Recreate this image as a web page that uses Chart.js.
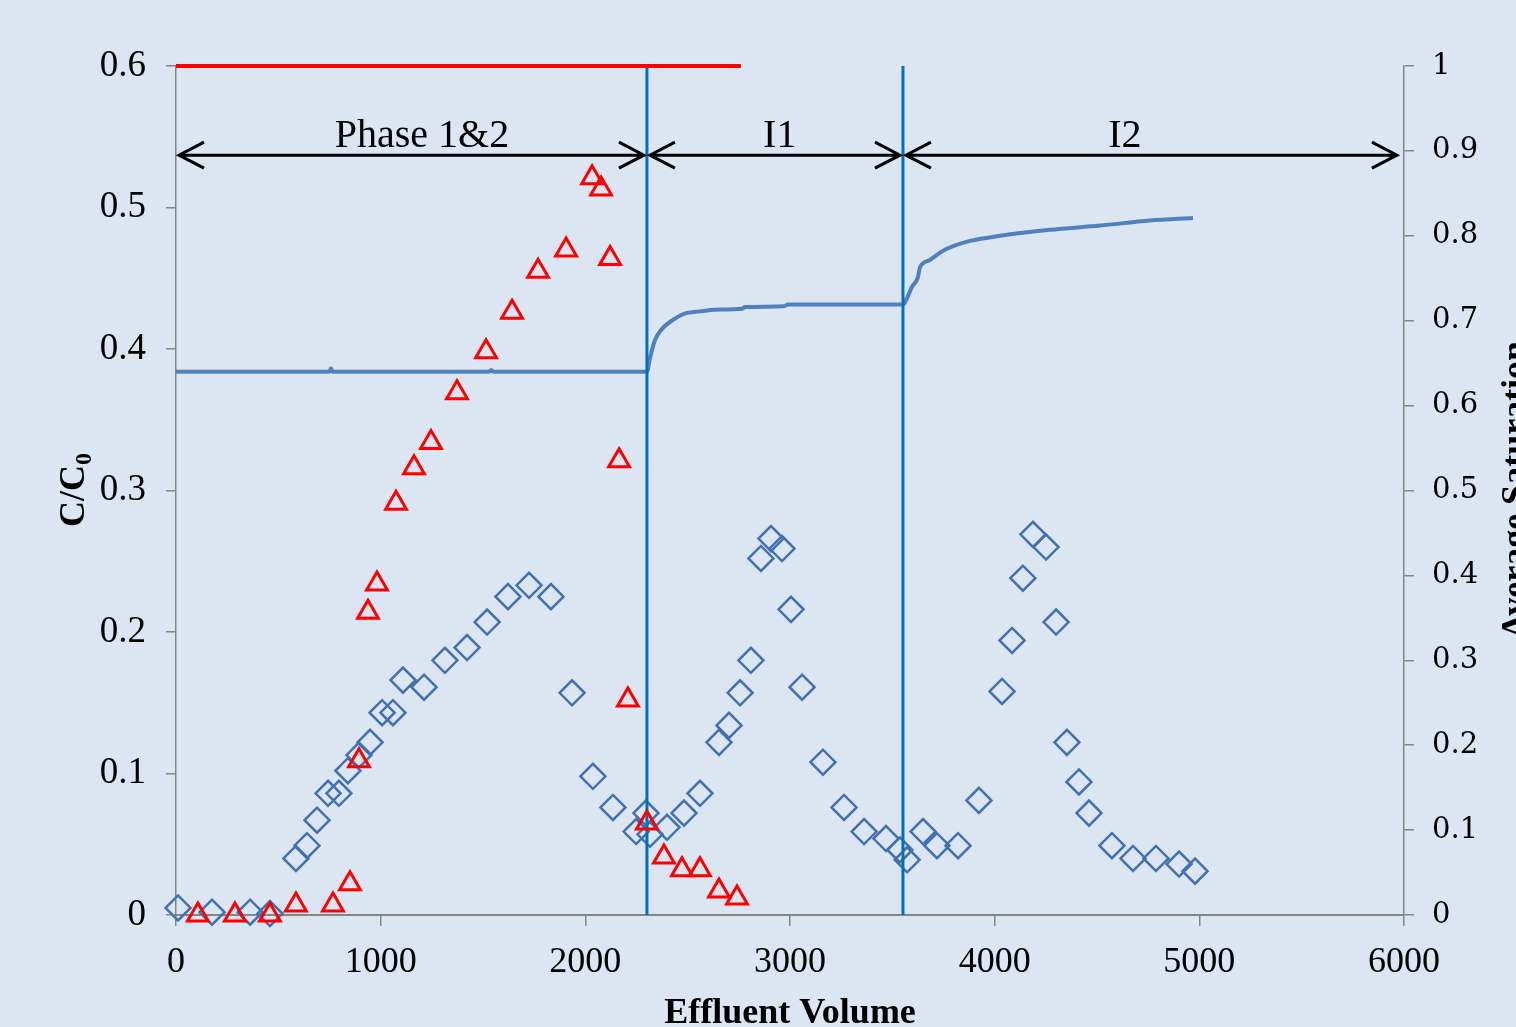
<!DOCTYPE html>
<html>
<head>
<meta charset="utf-8">
<script src="https://cdn.jsdelivr.net/npm/chart.js@4.4.1/dist/chart.umd.min.js"></script>
<style>
  html, body { margin: 0; padding: 0; background: #dce6f2; }
  #wrap { width: 1516px; height: 1027px; }
</style>
</head>
<body>
<div id="wrap"><canvas id="chart" width="1516" height="1027"></canvas></div>
<script>
// values
const diamondVol = [10, 176, 362, 459, 586, 640, 689, 743, 796, 840, 894, 948, 1007, 1060, 1109, 1212, 1314, 1422, 1520, 1622, 1725, 1832, 1935, 2037, 2135, 2248, 2296, 2316, 2399, 2482, 2560, 2653, 2702, 2756, 2809, 2858, 2907, 2961, 3005, 3059, 3161, 3264, 3362, 3469, 3537, 3572, 3650, 3718, 3821, 3923, 4036, 4085, 4138, 4187, 4251, 4300, 4353, 4412, 4461, 4573, 4676, 4788, 4901, 4979];
const diamondC = [0.005, 0.002, 0.002, 0.001, 0.040, 0.049, 0.067, 0.086, 0.086, 0.102, 0.113, 0.122, 0.143, 0.143, 0.166, 0.161, 0.180, 0.189, 0.207, 0.225, 0.233, 0.225, 0.157, 0.098, 0.076, 0.059, 0.072, 0.057, 0.062, 0.072, 0.086, 0.122, 0.134, 0.157, 0.180, 0.252, 0.266, 0.259, 0.216, 0.161, 0.108, 0.076, 0.059, 0.054, 0.046, 0.039, 0.059, 0.049, 0.049, 0.081, 0.158, 0.194, 0.238, 0.269, 0.260, 0.207, 0.122, 0.094, 0.072, 0.049, 0.040, 0.040, 0.036, 0.031];

const triVol = [107, 288, 459, 586, 767, 850, 894, 938, 982, 1075, 1163, 1246, 1373, 1515, 1642, 1769, 1906, 2033, 2077, 2121, 2165, 2208, 2301, 2384, 2472, 2560, 2653, 2741];
const triC = [0, 0, 0, 0.007, 0.007, 0.022, 0.109, 0.214, 0.234, 0.291, 0.316, 0.334, 0.369, 0.398, 0.426, 0.455, 0.470, 0.521, 0.513, 0.464, 0.321, 0.152, 0.065, 0.041, 0.032, 0.032, 0.017, 0.012];

const satVol = [0, 750, 757, 765, 1530, 1540, 1550, 2301, 2316, 2340, 2370, 2428, 2482, 2560, 2634, 2765, 2780, 2971, 2990, 3552, 3567, 3596, 3625, 3635, 3679, 3738, 3800, 3880, 4026, 4270, 4515, 4759, 4969];
const satVal = [0.640, 0.640, 0.644, 0.640, 0.640, 0.642, 0.640, 0.640, 0.656, 0.677, 0.689, 0.701, 0.708, 0.711, 0.713, 0.714, 0.716, 0.717, 0.719, 0.719, 0.724, 0.740, 0.751, 0.763, 0.771, 0.781, 0.788, 0.794, 0.800, 0.807, 0.812, 0.818, 0.821];

const feedVol = [0, 2760];
const feedC = [0.6, 0.6];

const phaseBounds = [0, 2301, 3552, 5980];
const phaseNames = ['Phase 1&2', 'I1', 'I2'];
const phaseLabelVol = [1202, 2950, 4636];
const phaseArrowY = 0.537;
const phaseLabelY = 0.553;

const xTickLabels = ['0', '1000', '2000', '3000', '4000', '5000', '6000'];
const leftTickLabels = ['0', '0.1', '0.2', '0.3', '0.4', '0.5', '0.6'];
const rightTickLabels = ['0', '0.1', '0.2', '0.3', '0.4', '0.5', '0.6', '0.7', '0.8', '0.9', '1'];

const pts = (xs, ys) => xs.map((x, i) => ({ x: x, y: ys[i] }));

const axisGray = '#868686';
const serif = '"Liberation Serif", "Times New Roman", serif';

const bgPlugin = {
  id: 'bg',
  beforeDraw(chart) {
    const c = chart.ctx;
    c.save();
    c.fillStyle = '#dce6f2';
    c.fillRect(0, 0, chart.width, chart.height);
    c.restore();
  }
};

const notesPlugin = {
  id: 'notes',
  afterDraw(chart) {
    const c = chart.ctx;
    const xs = chart.scales.x, ys = chart.scales.y;
    c.save();
    // phase arrows
    c.strokeStyle = '#000';
    c.lineWidth = 3;
    const ay = ys.getPixelForValue(phaseArrowY);
    for (let i = 0; i < phaseNames.length; i++) {
      const x1 = xs.getPixelForValue(phaseBounds[i]) + 3;
      const x2 = xs.getPixelForValue(phaseBounds[i + 1]) - 3;
      c.beginPath();
      c.moveTo(x1, ay); c.lineTo(x2, ay);
      c.moveTo(x1 + 25, ay - 13); c.lineTo(x1, ay); c.lineTo(x1 + 25, ay + 13);
      c.moveTo(x2 - 25, ay - 13); c.lineTo(x2, ay); c.lineTo(x2 - 25, ay + 13);
      c.stroke();
      c.fillStyle = '#000';
      c.font = '40px ' + serif;
      c.textAlign = 'center';
      c.textBaseline = 'alphabetic';
      c.fillText(phaseNames[i], xs.getPixelForValue(phaseLabelVol[i]), ys.getPixelForValue(phaseLabelY) + 14);
    }

    // x axis title
    c.font = 'bold 36px ' + serif;
    c.textAlign = 'center';
    c.fillText('Effluent Volume', (chart.chartArea.left + chart.chartArea.right) / 2, 1023);

    // left axis title C/C0
    c.save();
    c.translate(84, 490);
    c.rotate(-Math.PI / 2);
    c.textAlign = 'left';
    c.font = 'bold 36px ' + serif;
    const main = 'C/C';
    const wMain = c.measureText(main).width;
    c.font = 'bold 24px ' + serif;
    const wSub = c.measureText('0').width;
    const start = -(wMain + wSub) / 2;
    c.font = 'bold 36px ' + serif;
    c.fillText(main, start, 0);
    c.font = 'bold 24px ' + serif;
    c.fillText('0', start + wMain, 7);
    c.restore();

    // right axis title
    c.save();
    c.translate(1499, 490);
    c.rotate(-Math.PI / 2);
    c.textAlign = 'center';
    c.textBaseline = 'top';
    c.font = 'bold 36px ' + serif;
    c.fillText('Average Saturation', 0, 0);
    c.restore();
    c.restore();
  }
};

new Chart(document.getElementById('chart'), {
  type: 'scatter',
  data: {
    datasets: [
      {
        label: 'Feed',
        data: pts(feedVol, feedC),
        showLine: true,
        borderColor: '#ff0000',
        borderWidth: 4,
        pointRadius: 0,
        clip: false,
        yAxisID: 'y'
      },
      {
        label: 'Tracer 2',
        data: pts(triVol, triC),
        pointStyle: 'triangle',
        pointRadius: 12,
        borderColor: '#ff0000',
        borderWidth: 3,
        backgroundColor: 'rgba(0,0,0,0)',
        clip: false,
        yAxisID: 'y'
      },
      {
        label: 'Phase 1 end',
        data: pts([phaseBounds[1], phaseBounds[1]], [0, 0.6]),
        showLine: true,
        borderColor: '#0070c0',
        borderWidth: 3,
        pointRadius: 0,
        yAxisID: 'y'
      },
      {
        label: 'I1 end',
        data: pts([phaseBounds[2], phaseBounds[2]], [0, 0.6]),
        showLine: true,
        borderColor: '#0070c0',
        borderWidth: 3,
        pointRadius: 0,
        yAxisID: 'y'
      },
      {
        label: 'Average Saturation',
        data: pts(satVol, satVal),
        showLine: true,
        borderColor: '#4f81bd',
        borderWidth: 4,
        cubicInterpolationMode: 'monotone',
        pointRadius: 0,
        yAxisID: 'y2'
      },
      {
        label: 'Tracer 1',
        data: pts(diamondVol, diamondC),
        pointStyle: 'rectRot',
        pointRadius: 12.5,
        borderColor: '#4171b0',
        borderWidth: 2.5,
        backgroundColor: 'rgba(0,0,0,0)',
        clip: false,
        yAxisID: 'y'
      }
    ]
  },
  options: {
    responsive: false,
    animation: false,
    layout: { padding: { top: 66, left: 0, right: 0, bottom: 0 } },
    plugins: { legend: { display: false }, tooltip: { enabled: false } },
    scales: {
      x: {
        type: 'linear',
        min: 0, max: 6000,
        afterFit(s) { s.height = 112; },
        border: { display: true, color: axisGray, width: 2 },
        grid: { drawOnChartArea: false, drawTicks: true, tickLength: 11, color: axisGray, lineWidth: 1.5 },
        ticks: {
          stepSize: 1000, color: '#000', padding: 15, maxRotation: 0,
          font: { family: serif, size: 36 },
          callback: (v, i) => xTickLabels[i]
        }
      },
      y: {
        position: 'left',
        min: 0, max: 0.6,
        afterFit(s) { s.width = 176; },
        border: { display: true, color: axisGray, width: 1.5 },
        grid: { drawOnChartArea: false, drawTicks: true, tickLength: 10, color: axisGray, lineWidth: 1.5 },
        ticks: {
          stepSize: 0.1, color: '#000', padding: 20,
          font: { family: serif, size: 37 },
          callback: (v, i) => leftTickLabels[i]
        }
      },
      y2: {
        position: 'right',
        min: 0, max: 1,
        afterFit(s) { s.width = 112; },
        border: { display: true, color: axisGray, width: 1.5 },
        grid: { drawOnChartArea: false, drawTicks: true, tickLength: 10, color: axisGray, lineWidth: 1.5 },
        ticks: {
          stepSize: 0.1, color: '#000', padding: 18,
          font: { family: '"DejaVu Serif", serif', size: 29 },
          callback: (v, i) => rightTickLabels[i]
        }
      }
    }
  },
  plugins: [bgPlugin, notesPlugin]
});
</script>
</body>
</html>
